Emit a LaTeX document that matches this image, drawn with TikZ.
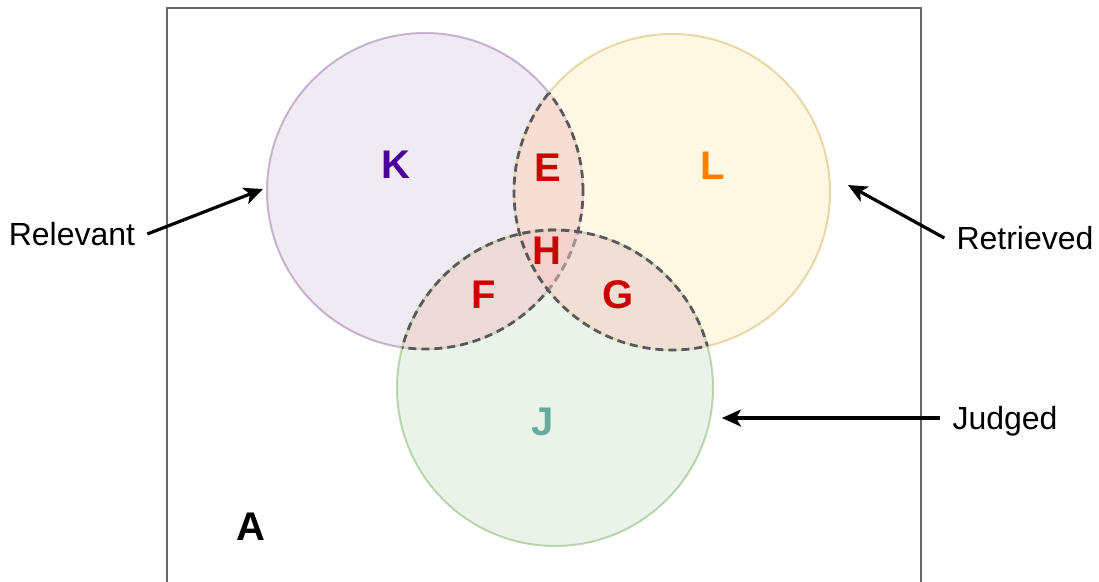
\documentclass[tikz,border=0pt]{standalone}
\usepackage{fontspec}
\setmainfont{Liberation Sans}
\usepackage{xcolor}
\usetikzlibrary{arrows.meta,positioning}

\definecolor{relfill}{HTML}{E1D5E7}
\definecolor{reldraw}{HTML}{9673A6}
\definecolor{retfill}{HTML}{FFF2CC}
\definecolor{retdraw}{HTML}{D6B656}
\definecolor{judfill}{HTML}{D5E8D4}
\definecolor{juddraw}{HTML}{82B366}
\definecolor{lensfill}{HTML}{F8CECC}
\definecolor{kcol}{HTML}{4C0099}
\definecolor{lcol}{HTML}{FF8000}
\definecolor{jcol}{HTML}{67AB9F}
\definecolor{regcol}{HTML}{CC0000}

\begin{document}
\begin{tikzpicture}[
        x=1pt, y=-1pt,
        set/.style={circle, minimum size=316pt, inner sep=0pt, line width=2pt, fill opacity=0.5, draw opacity=0.5},
        lens/.style={fill=lensfill, fill opacity=0.5},
        lensline/.style={draw=black!65, line width=2.8pt, dash pattern=on 8pt off 5pt},
        region/.style={font=\fontsize{40}{42}\selectfont\bfseries, text depth=0pt, inner sep=0pt},
        tag/.style={font=\fontsize{32}{36}\selectfont, text depth=0pt, inner sep=12pt},
        pointer/.style={line width=3.2pt, -{Stealth[length=19pt, width=17pt, inset=5pt]}},
        frame/.style={draw=black!60, line width=2.5pt}
    ]
        \useasboundingbox (0,0) rectangle (1099,581);
        \clip (0,0) rectangle (1099,581);

        % Universe
        \draw [frame] (167,8) rectangle (921,640);

        % Sets
        \node [set, draw=reldraw, fill=relfill] (K) at (425,191) {};
        \node [set, draw=retdraw, fill=retfill] (L) at (672,192) {};
        \node [set, draw=juddraw, fill=judfill] (J) at (555,388) {};

        % Pairwise overlaps
        \foreach \a/\b in {K/L, K/J, L/J} {
            \begin{scope}
                \clip (\a.center) circle (158pt);
                \fill [lens] (\b.center) circle (158pt);
            \end{scope}
            \begin{scope}
                \clip (\b.center) circle (158pt);
                \draw [lensline] (\a.center) circle (158pt);
            \end{scope}
            \begin{scope}
                \clip (\a.center) circle (158pt);
                \draw [lensline] (\b.center) circle (158pt);
            \end{scope}
        }

        % Region letters
        \node [region, text=kcol] (k) at (396,165) {K};
        \node [region, text=lcol] (l) at (713,166) {L};
        \node [region, text=jcol] (j) at (543,422) {J};
        \node [region, text=regcol] (e) at (548,168) {E};
        \node [region, text=regcol] (h) at (547,251) {H};
        \node [region, text=regcol] (f) at (484,295) {F};
        \node [region, text=regcol] (g) at (618,295) {G};
        \node [region] (a) at (251,527) {A};

        % Set names
        \node [tag] (rel) at (72,234) {Relevant};
        \node [tag] (ret) at (1025,238) {Retrieved};
        \node [tag] (jud) at (1005,418) {Judged};

        % Arrows
        \coordinate (relTip) at (263,189);
        \coordinate (retTip) at (848,185);
        \coordinate (judTip) at (722,418);
        \draw [pointer] (rel.east) -- (relTip);
        \draw [pointer] (ret.west) -- (retTip);
        \draw [pointer] (jud.west) -- (judTip);

    \end{tikzpicture}
\end{document}
